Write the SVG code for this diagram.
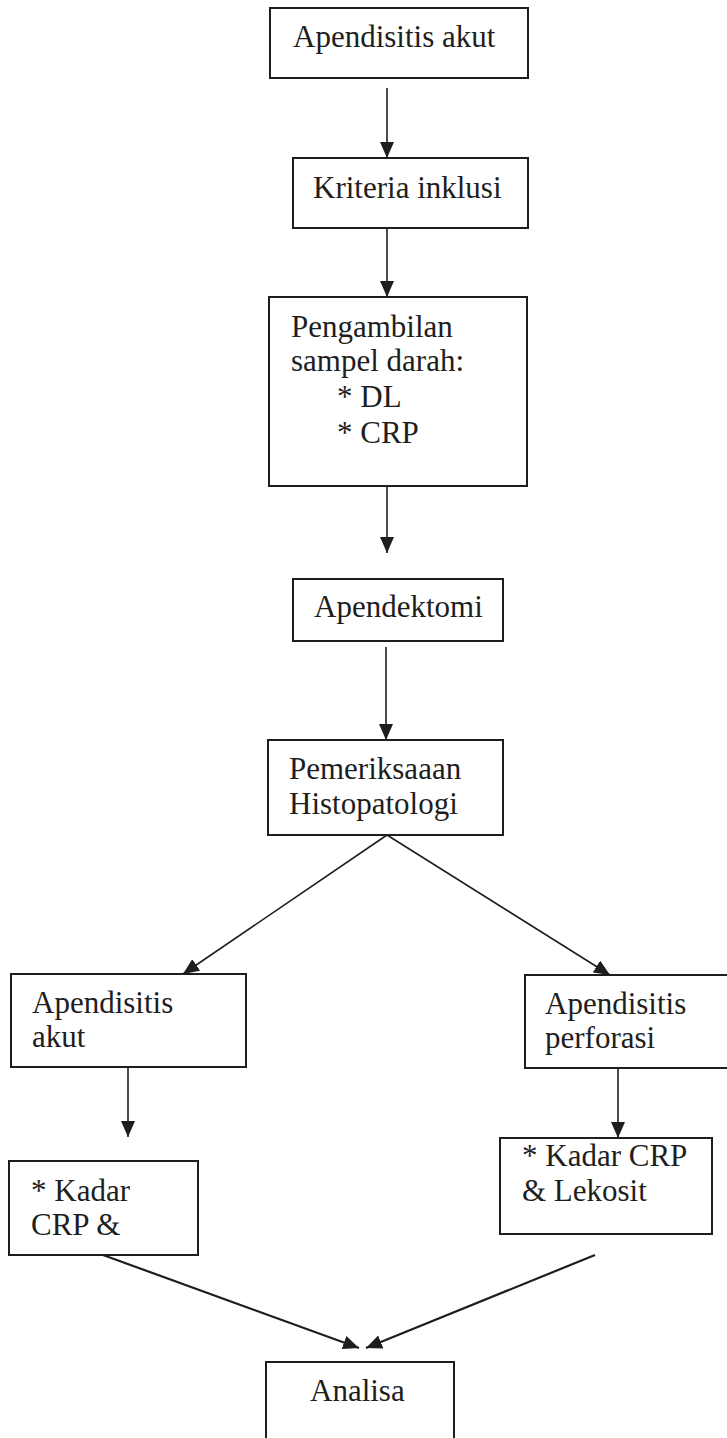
<svg xmlns="http://www.w3.org/2000/svg" width="727" height="1438" viewBox="0 0 727 1438">
<style>
.box{fill:#fff;stroke:#1e1e1e;stroke-width:2}
.t{font-family:"Liberation Serif","Times New Roman",serif;font-size:31px;fill:#1e1e1e}
.c{fill:none;stroke:#1e1e1e;stroke-width:1.6}
.c2{fill:none;stroke:#1e1e1e;stroke-width:2.2}
</style>
<defs>
<marker id="ah" viewBox="0 0 16 14" refX="16" refY="7" markerWidth="16" markerHeight="14" orient="auto" markerUnits="userSpaceOnUse">
<path d="M0,0 L16,7 L0,14 z" fill="#1e1e1e"/>
</marker>
</defs>
<rect width="727" height="1438" fill="#fff"/>
<g id="connectors">
<line class="c" x1="387" y1="88" x2="387" y2="158" marker-end="url(#ah)"/>
<line class="c" x1="387" y1="228" x2="387" y2="297" marker-end="url(#ah)"/>
<line class="c" x1="387" y1="486" x2="387" y2="553" marker-end="url(#ah)"/>
<line class="c" x1="386" y1="647" x2="386" y2="740" marker-end="url(#ah)"/>
<line class="c" x1="387" y1="835" x2="183" y2="974" marker-end="url(#ah)"/>
<line class="c" x1="387" y1="835" x2="610" y2="975" marker-end="url(#ah)"/>
<line class="c" x1="128" y1="1067" x2="128" y2="1137" marker-end="url(#ah)"/>
<line class="c" x1="618" y1="1068" x2="618" y2="1138" marker-end="url(#ah)"/>
<line class="c2" x1="103" y1="1255" x2="359" y2="1348" marker-end="url(#ah)"/>
<line class="c2" x1="595" y1="1255" x2="366" y2="1348" marker-end="url(#ah)"/>
</g>
<g id="n1"><rect class="box" x="270" y="8" width="258" height="70"/><text class="t" x="293" y="47">Apendisitis akut</text></g>
<g id="n2"><rect class="box" x="293" y="158" width="235" height="70"/><text class="t" x="313" y="198">Kriteria inklusi</text></g>
<g id="n3"><rect class="box" x="269" y="297" width="258" height="189"/>
<text class="t" x="291" y="337">Pengambilan</text>
<text class="t" x="291" y="371">sampel darah:</text>
<text class="t" x="337" y="407">* DL</text>
<text class="t" x="337" y="443">* CRP</text></g>
<g id="n4"><rect class="box" x="293" y="579" width="210" height="62"/><text class="t" x="314" y="617">Apendektomi</text></g>
<g id="n5"><rect class="box" x="268" y="740" width="235" height="95"/>
<text class="t" x="289" y="779">Pemeriksaaan</text>
<text class="t" x="289" y="814">Histopatologi</text></g>
<g id="n6"><rect class="box" x="11" y="974" width="235" height="93"/>
<text class="t" x="32" y="1013">Apendisitis</text>
<text class="t" x="32" y="1047">akut</text></g>
<g id="n7"><rect class="box" x="525" y="975" width="210" height="93"/>
<text class="t" x="545" y="1014">Apendisitis</text>
<text class="t" x="545" y="1048">perforasi</text></g>
<g id="n8"><rect class="box" x="9" y="1161" width="189" height="94"/>
<text class="t" x="31" y="1201">* Kadar</text>
<text class="t" x="31" y="1235">CRP &amp;</text></g>
<g id="n9"><rect class="box" x="500" y="1138" width="212" height="96"/>
<text class="t" x="522" y="1166">* Kadar CRP</text>
<text class="t" x="522" y="1201">&amp; Lekosit</text></g>
<g id="n10"><rect class="box" x="266" y="1362" width="188" height="90"/>
<text class="t" x="310" y="1401">Analisa</text></g>
</svg>
